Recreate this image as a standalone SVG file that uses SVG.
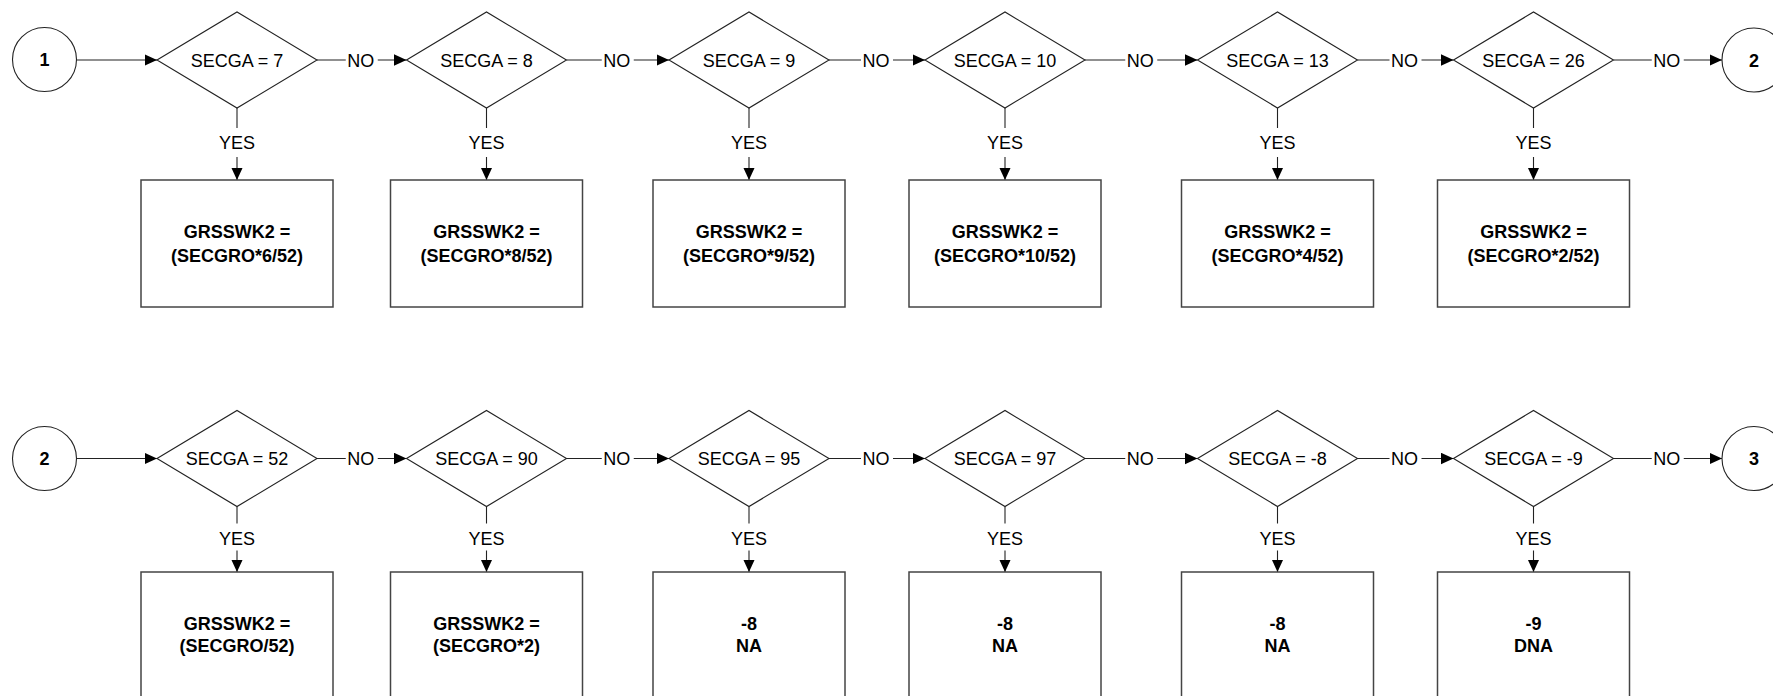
<svg xmlns="http://www.w3.org/2000/svg" width="1773" height="696" viewBox="0 0 1773 696">
<style>
  .shape{fill:#fff;stroke:#222;stroke-width:1.1}
  .box{fill:#fff;stroke:#444;stroke-width:1.5}
  .conn{fill:none;stroke:#222;stroke-width:1.1}
  .t{font-family:"Liberation Sans",Arial,sans-serif;font-size:18px;fill:#000;text-anchor:middle}
  .b{font-weight:bold}
  .lbg{fill:#fff;stroke:none}
</style>
<defs>
  <marker id="arr" markerUnits="userSpaceOnUse" markerWidth="13" markerHeight="12" refX="12.5" refY="5.75" orient="auto">
    <path d="M0,0 L12.5,5.75 L0,11.5 z" fill="#000"/>
  </marker>
</defs>
<rect width="1773" height="696" fill="#fff"/>

<g id="connectors">
  <!-- row 1 -->
  <line class="conn" x1="76.5" y1="60" x2="157" y2="60" marker-end="url(#arr)"/>
  <line class="conn" x1="317" y1="60" x2="406.5" y2="60" marker-end="url(#arr)"/>
  <line class="conn" x1="566.5" y1="60" x2="669" y2="60" marker-end="url(#arr)"/>
  <line class="conn" x1="829" y1="60" x2="925" y2="60" marker-end="url(#arr)"/>
  <line class="conn" x1="1085" y1="60" x2="1197.5" y2="60" marker-end="url(#arr)"/>
  <line class="conn" x1="1357.5" y1="60" x2="1453.5" y2="60" marker-end="url(#arr)"/>
  <line class="conn" x1="1613.5" y1="60" x2="1722" y2="60" marker-end="url(#arr)"/>
  <line class="conn" x1="237" y1="108" x2="237" y2="180" marker-end="url(#arr)"/>
  <line class="conn" x1="486.5" y1="108" x2="486.5" y2="180" marker-end="url(#arr)"/>
  <line class="conn" x1="749" y1="108" x2="749" y2="180" marker-end="url(#arr)"/>
  <line class="conn" x1="1005" y1="108" x2="1005" y2="180" marker-end="url(#arr)"/>
  <line class="conn" x1="1277.5" y1="108" x2="1277.5" y2="180" marker-end="url(#arr)"/>
  <line class="conn" x1="1533.5" y1="108" x2="1533.5" y2="180" marker-end="url(#arr)"/>
  <!-- row 2 -->
  <line class="conn" x1="76.5" y1="458.5" x2="157" y2="458.5" marker-end="url(#arr)"/>
  <line class="conn" x1="317" y1="458.5" x2="406.5" y2="458.5" marker-end="url(#arr)"/>
  <line class="conn" x1="566.5" y1="458.5" x2="669" y2="458.5" marker-end="url(#arr)"/>
  <line class="conn" x1="829" y1="458.5" x2="925" y2="458.5" marker-end="url(#arr)"/>
  <line class="conn" x1="1085" y1="458.5" x2="1197.5" y2="458.5" marker-end="url(#arr)"/>
  <line class="conn" x1="1357.5" y1="458.5" x2="1453.5" y2="458.5" marker-end="url(#arr)"/>
  <line class="conn" x1="1613.5" y1="458.5" x2="1722" y2="458.5" marker-end="url(#arr)"/>
  <line class="conn" x1="237" y1="506.5" x2="237" y2="572" marker-end="url(#arr)"/>
  <line class="conn" x1="486.5" y1="506.5" x2="486.5" y2="572" marker-end="url(#arr)"/>
  <line class="conn" x1="749" y1="506.5" x2="749" y2="572" marker-end="url(#arr)"/>
  <line class="conn" x1="1005" y1="506.5" x2="1005" y2="572" marker-end="url(#arr)"/>
  <line class="conn" x1="1277.5" y1="506.5" x2="1277.5" y2="572" marker-end="url(#arr)"/>
  <line class="conn" x1="1533.5" y1="506.5" x2="1533.5" y2="572" marker-end="url(#arr)"/>

  <!-- NO labels row 1 -->
  <g id="no-labels-row1">
    <rect class="lbg" x="345.75" y="51" width="32" height="18"/><text class="t" x="360.75" y="66.5">NO</text>
    <rect class="lbg" x="601.75" y="51" width="32" height="18"/><text class="t" x="616.75" y="66.5">NO</text>
    <rect class="lbg" x="861" y="51" width="32" height="18"/><text class="t" x="876" y="66.5">NO</text>
    <rect class="lbg" x="1125.25" y="51" width="32" height="18"/><text class="t" x="1140.25" y="66.5">NO</text>
    <rect class="lbg" x="1389.5" y="51" width="32" height="18"/><text class="t" x="1404.5" y="66.5">NO</text>
    <rect class="lbg" x="1651.75" y="51" width="32" height="18"/><text class="t" x="1666.75" y="66.5">NO</text>
  </g>
  <g id="yes-labels-row1">
    <rect class="lbg" x="217" y="128" width="40" height="29"/><text class="t" x="237" y="149">YES</text>
    <rect class="lbg" x="466.5" y="128" width="40" height="29"/><text class="t" x="486.5" y="149">YES</text>
    <rect class="lbg" x="729" y="128" width="40" height="29"/><text class="t" x="749" y="149">YES</text>
    <rect class="lbg" x="985" y="128" width="40" height="29"/><text class="t" x="1005" y="149">YES</text>
    <rect class="lbg" x="1257.5" y="128" width="40" height="29"/><text class="t" x="1277.5" y="149">YES</text>
    <rect class="lbg" x="1513.5" y="128" width="40" height="29"/><text class="t" x="1533.5" y="149">YES</text>
  </g>
  <g id="no-labels-row2">
    <rect class="lbg" x="345.75" y="449.5" width="32" height="18"/><text class="t" x="360.75" y="465">NO</text>
    <rect class="lbg" x="601.75" y="449.5" width="32" height="18"/><text class="t" x="616.75" y="465">NO</text>
    <rect class="lbg" x="861" y="449.5" width="32" height="18"/><text class="t" x="876" y="465">NO</text>
    <rect class="lbg" x="1125.25" y="449.5" width="32" height="18"/><text class="t" x="1140.25" y="465">NO</text>
    <rect class="lbg" x="1389.5" y="449.5" width="32" height="18"/><text class="t" x="1404.5" y="465">NO</text>
    <rect class="lbg" x="1651.75" y="449.5" width="32" height="18"/><text class="t" x="1666.75" y="465">NO</text>
  </g>
  <g id="yes-labels-row2">
    <rect class="lbg" x="217" y="523.5" width="40" height="27"/><text class="t" x="237" y="544.5">YES</text>
    <rect class="lbg" x="466.5" y="523.5" width="40" height="27"/><text class="t" x="486.5" y="544.5">YES</text>
    <rect class="lbg" x="729" y="523.5" width="40" height="27"/><text class="t" x="749" y="544.5">YES</text>
    <rect class="lbg" x="985" y="523.5" width="40" height="27"/><text class="t" x="1005" y="544.5">YES</text>
    <rect class="lbg" x="1257.5" y="523.5" width="40" height="27"/><text class="t" x="1277.5" y="544.5">YES</text>
    <rect class="lbg" x="1513.5" y="523.5" width="40" height="27"/><text class="t" x="1533.5" y="544.5">YES</text>
  </g>
</g>

<!-- Row 1 nodes -->
<g id="c1"><circle class="shape" cx="44.5" cy="59.5" r="32"/><text class="t b" x="44.5" y="66">1</text></g>
<g id="d1"><polygon class="shape" points="157,60 237,12 317,60 237,108"/><text class="t" x="237" y="66.5">SECGA = 7</text></g>
<g id="d2"><polygon class="shape" points="406.5,60 486.5,12 566.5,60 486.5,108"/><text class="t" x="486.5" y="66.5">SECGA = 8</text></g>
<g id="d3"><polygon class="shape" points="669,60 749,12 829,60 749,108"/><text class="t" x="749" y="66.5">SECGA = 9</text></g>
<g id="d4"><polygon class="shape" points="925,60 1005,12 1085,60 1005,108"/><text class="t" x="1005" y="66.5">SECGA = 10</text></g>
<g id="d5"><polygon class="shape" points="1197.5,60 1277.5,12 1357.5,60 1277.5,108"/><text class="t" x="1277.5" y="66.5">SECGA = 13</text></g>
<g id="d6"><polygon class="shape" points="1453.5,60 1533.5,12 1613.5,60 1533.5,108"/><text class="t" x="1533.5" y="66.5">SECGA = 26</text></g>
<g id="c2a"><circle class="shape" cx="1754" cy="60" r="32"/><text class="t b" x="1754" y="66.5">2</text></g>

<g id="b1"><rect class="box" x="141" y="180" width="192" height="127"/><text class="t b" x="237" y="238">GRSSWK2 =</text><text class="t b" x="237" y="261.5">(SECGRO*6/52)</text></g>
<g id="b2"><rect class="box" x="390.5" y="180" width="192" height="127"/><text class="t b" x="486.5" y="238">GRSSWK2 =</text><text class="t b" x="486.5" y="261.5">(SECGRO*8/52)</text></g>
<g id="b3"><rect class="box" x="653" y="180" width="192" height="127"/><text class="t b" x="749" y="238">GRSSWK2 =</text><text class="t b" x="749" y="261.5">(SECGRO*9/52)</text></g>
<g id="b4"><rect class="box" x="909" y="180" width="192" height="127"/><text class="t b" x="1005" y="238">GRSSWK2 =</text><text class="t b" x="1005" y="261.5">(SECGRO*10/52)</text></g>
<g id="b5"><rect class="box" x="1181.5" y="180" width="192" height="127"/><text class="t b" x="1277.5" y="238">GRSSWK2 =</text><text class="t b" x="1277.5" y="261.5">(SECGRO*4/52)</text></g>
<g id="b6"><rect class="box" x="1437.5" y="180" width="192" height="127"/><text class="t b" x="1533.5" y="238">GRSSWK2 =</text><text class="t b" x="1533.5" y="261.5">(SECGRO*2/52)</text></g>

<!-- Row 2 nodes -->
<g id="c2b"><circle class="shape" cx="44.5" cy="458.5" r="32"/><text class="t b" x="44.5" y="465">2</text></g>
<g id="d7"><polygon class="shape" points="157,458.5 237,410.5 317,458.5 237,506.5"/><text class="t" x="237" y="465">SECGA = 52</text></g>
<g id="d8"><polygon class="shape" points="406.5,458.5 486.5,410.5 566.5,458.5 486.5,506.5"/><text class="t" x="486.5" y="465">SECGA = 90</text></g>
<g id="d9"><polygon class="shape" points="669,458.5 749,410.5 829,458.5 749,506.5"/><text class="t" x="749" y="465">SECGA = 95</text></g>
<g id="d10"><polygon class="shape" points="925,458.5 1005,410.5 1085,458.5 1005,506.5"/><text class="t" x="1005" y="465">SECGA = 97</text></g>
<g id="d11"><polygon class="shape" points="1197.5,458.5 1277.5,410.5 1357.5,458.5 1277.5,506.5"/><text class="t" x="1277.5" y="465">SECGA = -8</text></g>
<g id="d12"><polygon class="shape" points="1453.5,458.5 1533.5,410.5 1613.5,458.5 1533.5,506.5"/><text class="t" x="1533.5" y="465">SECGA = -9</text></g>
<g id="c3"><circle class="shape" cx="1754" cy="458.5" r="32"/><text class="t b" x="1754" y="465">3</text></g>

<g id="b7"><rect class="box" x="141" y="572" width="192" height="127"/><text class="t b" x="237" y="629.5">GRSSWK2 =</text><text class="t b" x="237" y="652">(SECGRO/52)</text></g>
<g id="b8"><rect class="box" x="390.5" y="572" width="192" height="127"/><text class="t b" x="486.5" y="629.5">GRSSWK2 =</text><text class="t b" x="486.5" y="652">(SECGRO*2)</text></g>
<g id="b9"><rect class="box" x="653" y="572" width="192" height="127"/><text class="t b" x="749" y="629.5">-8</text><text class="t b" x="749" y="652">NA</text></g>
<g id="b10"><rect class="box" x="909" y="572" width="192" height="127"/><text class="t b" x="1005" y="629.5">-8</text><text class="t b" x="1005" y="652">NA</text></g>
<g id="b11"><rect class="box" x="1181.5" y="572" width="192" height="127"/><text class="t b" x="1277.5" y="629.5">-8</text><text class="t b" x="1277.5" y="652">NA</text></g>
<g id="b12"><rect class="box" x="1437.5" y="572" width="192" height="127"/><text class="t b" x="1533.5" y="629.5">-9</text><text class="t b" x="1533.5" y="652">DNA</text></g>
</svg>
